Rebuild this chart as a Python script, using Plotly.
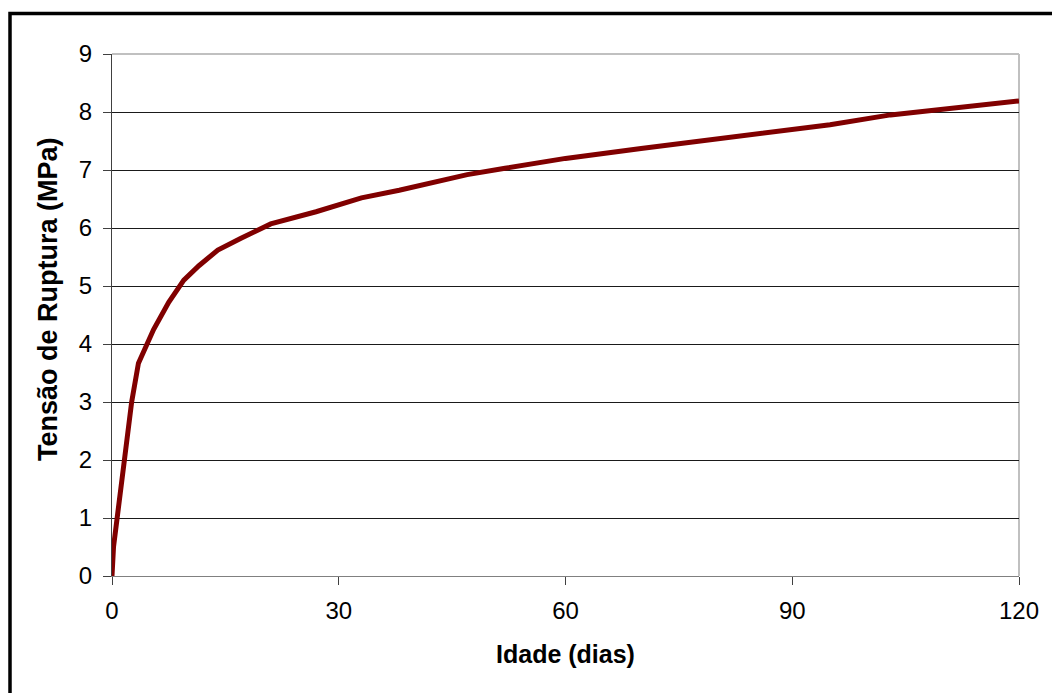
import plotly.graph_objects as go

# Idade dos corpos de prova (dias) e tensão de ruptura medida (MPa)
idade_dias = [0, 0.2, 1.7, 2.6, 3.5, 5.5, 7.5, 9.5, 11.5, 14, 17, 21, 27, 33,
              38, 43, 47, 52, 60, 70, 80, 90, 95, 103, 112, 120]
tensao_mpa = [0, 0.5, 2.06, 3.0, 3.67, 4.25, 4.72, 5.1, 5.35, 5.62, 5.82, 6.07,
              6.28, 6.52, 6.65, 6.8, 6.92, 7.03, 7.2, 7.37, 7.53, 7.7, 7.78,
              7.95, 8.07, 8.19]

x_ticks = [0, 30, 60, 90, 120]
y_ticks = [0, 1, 2, 3, 4, 5, 6, 7, 8, 9]

W, H = 1052, 693
ML, MR, MT, MB = 112, 33, 54, 117
plot_w = W - ML - MR
plot_h = H - MT - MB

FONT = "Liberation Sans, Arial, sans-serif"


def px_to_paper(px, py):
    """Convert page pixel coordinates to paper coordinates."""
    return (px - ML) / plot_w, (H - MB - py) / plot_h


fig = go.Figure()
fig.add_trace(go.Scatter(
    x=idade_dias, y=tensao_mpa, mode="lines",
    line=dict(color="#800000", width=5),
    showlegend=False,
))

# outer chart frame (right and bottom edges run off the page)
frame_left, frame_top = px_to_paper(10, 13.5)
shapes = [
    dict(type="rect", xref="paper", yref="paper",
         x0=frame_left, x1=1.2, y0=-0.4, y1=frame_top,
         line=dict(color="black", width=3.5), layer="above"),
    # light grey top/right edges of the plotting area
    dict(type="line", xref="paper", yref="paper", x0=0, x1=1, y0=1, y1=1,
         line=dict(color="#c0c0c0", width=2), layer="below"),
    dict(type="line", xref="paper", yref="paper", x0=1, x1=1, y0=0, y1=1,
         line=dict(color="#c0c0c0", width=2), layer="below"),
]

ytitle_x, ytitle_y = px_to_paper(48, 299)
annotations = [
    dict(text="<b>Tensão de Ruptura (MPa)</b>", textangle=-90,
         xref="paper", yref="paper", x=ytitle_x, y=ytitle_y,
         xanchor="center", yanchor="middle", showarrow=False,
         font=dict(size=27, family=FONT, color="black")),
]

fig.update_layout(
    width=W, height=H,
    margin=dict(l=ML, r=MR, t=MT, b=MB, pad=0),
    paper_bgcolor="white", plot_bgcolor="white",
    font=dict(family=FONT, color="black"),
    shapes=shapes,
    annotations=annotations,
    xaxis=dict(
        range=[0, 120], tickvals=x_ticks, ticktext=[str(v) for v in x_ticks],
        showgrid=False, zeroline=False,
        showline=True, linecolor="#808080", linewidth=1,
        ticks="outside", ticklen=8, tickcolor="#404040", tickwidth=1,
        tickfont=dict(size=24, family=FONT), ticklabelstandoff=5,
        title=dict(text="<b>Idade (dias)</b>", font=dict(size=25, family=FONT),
                   standoff=22),
    ),
    yaxis=dict(
        range=[0, 9], tickvals=y_ticks, ticktext=[str(v) for v in y_ticks],
        showgrid=True, gridcolor="#1a1a1a", gridwidth=1, zeroline=False,
        showline=True, linecolor="#404040", linewidth=1,
        ticks="outside", ticklen=8, tickcolor="#404040", tickwidth=1,
        tickfont=dict(size=24, family=FONT), ticklabelstandoff=6,
    ),
)

fig.write_html("out.html")
